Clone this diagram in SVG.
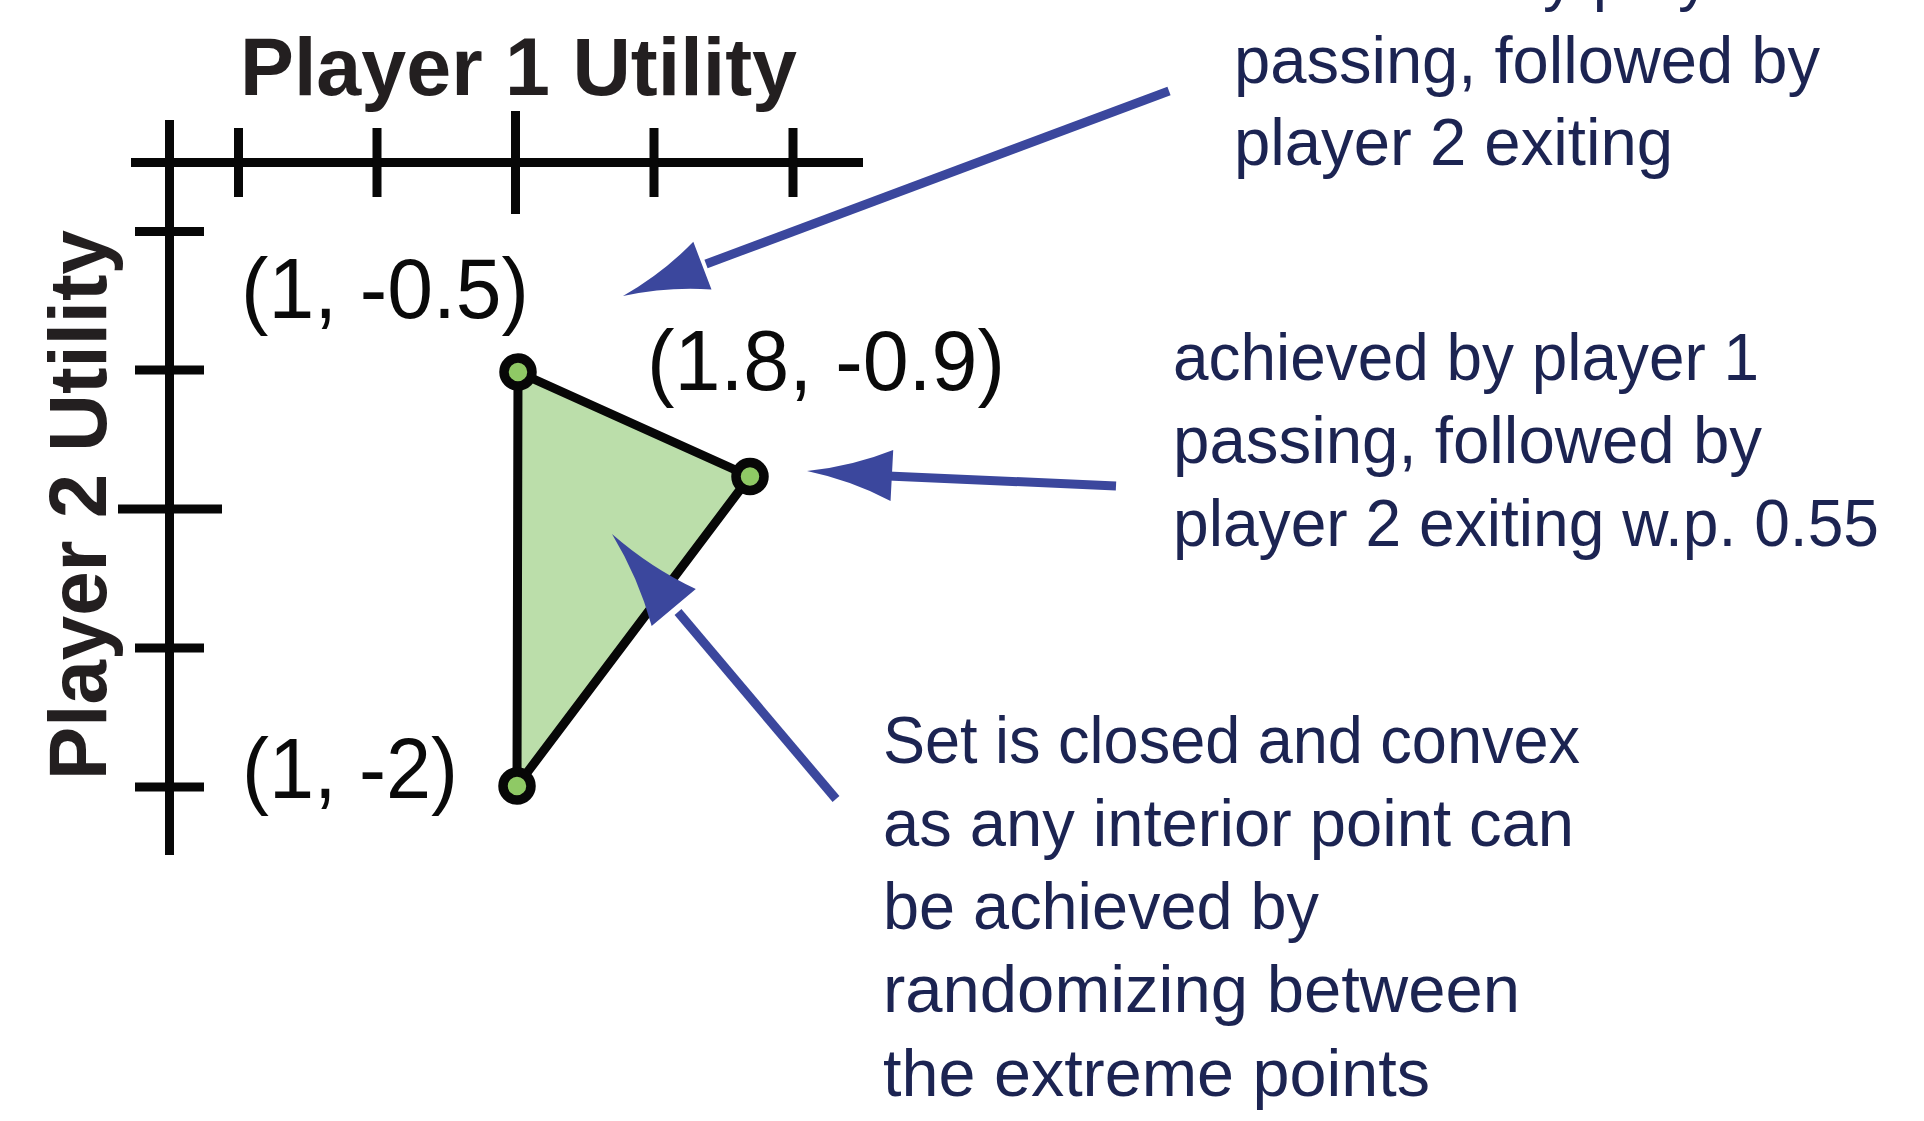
<svg xmlns="http://www.w3.org/2000/svg" xmlns:xlink="http://www.w3.org/1999/xlink" width="1924" height="1121" viewBox="0 0 1924 1121">
  <style>
    .axis { stroke: #070707; stroke-width: 9; fill: none; }
    .title { font-family: "Liberation Sans", Arial, sans-serif; font-weight: bold; font-size: 82px; fill: #231f20; }
    .coord { font-family: "Liberation Sans", Arial, sans-serif; font-size: 85px; fill: #0a0a0a; }
    .note { font-family: "Liberation Sans", Arial, sans-serif; font-size: 66px; fill: #1c2452; }
    .ptr { stroke: #3b479d; stroke-width: 9; fill: none; }
    .head { fill: #3b479d; }
    .region { fill: #bbdeaa; stroke: #070707; stroke-width: 9; stroke-linejoin: round; }
    .vertex { fill: #8fc965; stroke: #070707; stroke-width: 9.5; }
  </style>
  <defs>
    <!-- swept arrowhead, tip at origin, pointing along +x -->
    <path id="arrowhead" class="head" d="M0,0 Q-45,-7 -85,-25.5 L-85,25.5 Q-45,7 0,0 Z"/>
  </defs>

  <rect width="1924" height="1121" fill="#ffffff"/>

  <!-- axes with tick marks -->
  <g id="axes">
    <line class="axis" x1="131" y1="162.5" x2="863" y2="162.5"/>
    <line class="axis" x1="169.5" y1="120" x2="169.5" y2="855"/>
    <line class="axis" x1="238.5" y1="128" x2="238.5" y2="197"/>
    <line class="axis" x1="377" y1="128" x2="377" y2="197"/>
    <line class="axis" x1="515.5" y1="111" x2="515.5" y2="214"/>
    <line class="axis" x1="654" y1="128" x2="654" y2="197"/>
    <line class="axis" x1="793" y1="128" x2="793" y2="197"/>
    <line class="axis" x1="135" y1="231.5" x2="204" y2="231.5"/>
    <line class="axis" x1="135" y1="370" x2="204" y2="370"/>
    <line class="axis" x1="118" y1="509" x2="222" y2="509"/>
    <line class="axis" x1="135" y1="648" x2="204" y2="648"/>
    <line class="axis" x1="135" y1="787" x2="204" y2="787"/>
  </g>

  <g id="axis-titles">
    <text class="title" x="240" y="95" textLength="557" lengthAdjust="spacingAndGlyphs">Player 1 Utility</text>
    <text class="title" transform="translate(106,780) rotate(-90)" textLength="550" lengthAdjust="spacingAndGlyphs">Player 2 Utility</text>
  </g>

  <!-- feasible utility set -->
  <g id="utility-set">
    <polygon class="region" points="518,372 750,476.5 517,786"/>
  </g>

  <g id="vertex-top">
    <circle class="vertex" cx="518" cy="372" r="14"/>
    <text class="coord" x="241" y="318" textLength="288" lengthAdjust="spacingAndGlyphs">(1, -0.5)</text>
  </g>
  <g id="vertex-right">
    <circle class="vertex" cx="750" cy="476.5" r="14"/>
    <text class="coord" x="647" y="390" textLength="358" lengthAdjust="spacingAndGlyphs">(1.8, -0.9)</text>
  </g>
  <g id="vertex-bottom">
    <circle class="vertex" cx="517" cy="786" r="14"/>
    <text class="coord" x="242" y="798" textLength="216" lengthAdjust="spacingAndGlyphs">(1, -2)</text>
  </g>

  <!-- pointer arrows -->
  <g id="connectors">
    <line class="ptr" x1="1169" y1="91" x2="706" y2="264"/>
    <use xlink:href="#arrowhead" transform="translate(623,296) rotate(159.1)"/>
    <line class="ptr" x1="1116" y1="486" x2="888" y2="476"/>
    <use xlink:href="#arrowhead" transform="translate(807,471) rotate(183)"/>
    <line class="ptr" x1="836" y1="799" x2="678" y2="612"/>
    <use xlink:href="#arrowhead" transform="translate(612,534) rotate(-130) scale(1.13)"/>
  </g>

  <g id="note-top">
    <text class="note" x="1234" y="-2" textLength="586" lengthAdjust="spacingAndGlyphs">achieved by player 1</text>
    <text class="note" x="1234" y="82.5" textLength="586" lengthAdjust="spacingAndGlyphs">passing, followed by</text>
    <text class="note" x="1234" y="165" textLength="439" lengthAdjust="spacingAndGlyphs">player 2 exiting</text>
  </g>

  <g id="note-right">
    <text class="note" x="1173" y="380" textLength="586" lengthAdjust="spacingAndGlyphs">achieved by player 1</text>
    <text class="note" x="1173" y="463" textLength="589" lengthAdjust="spacingAndGlyphs">passing, followed by</text>
    <text class="note" x="1173" y="546" textLength="706" lengthAdjust="spacingAndGlyphs">player 2 exiting w.p. 0.55</text>
  </g>

  <g id="note-bottom">
    <text class="note" x="883" y="763" textLength="697" lengthAdjust="spacingAndGlyphs">Set is closed and convex</text>
    <text class="note" x="883" y="846" textLength="691" lengthAdjust="spacingAndGlyphs">as any interior point can</text>
    <text class="note" x="883" y="929" textLength="436" lengthAdjust="spacingAndGlyphs">be achieved by</text>
    <text class="note" x="883" y="1012" textLength="637" lengthAdjust="spacingAndGlyphs">randomizing between</text>
    <text class="note" x="883" y="1096" textLength="547" lengthAdjust="spacingAndGlyphs">the extreme points</text>
  </g>
</svg>
